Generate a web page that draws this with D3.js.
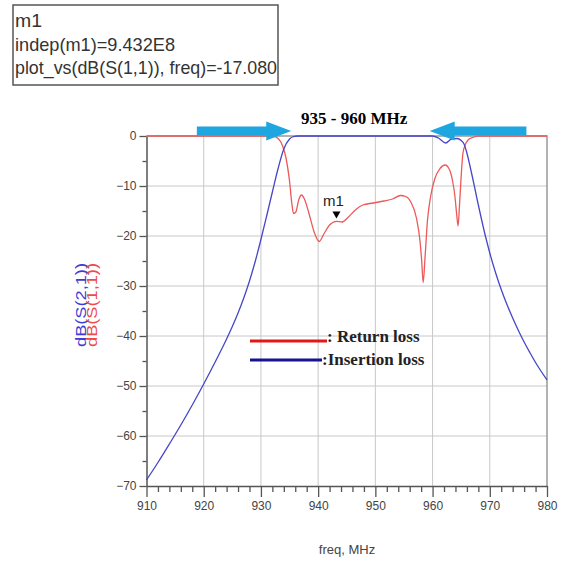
<!DOCTYPE html>
<html>
<head>
<meta charset="utf-8">
<script src="https://cdn.jsdelivr.net/npm/d3@7"></script>
<style>
  body { margin: 0; background: #fff; }
  svg { display: block; font-family: "Liberation Sans", Arial, sans-serif; }
</style>
</head>
<body>
<div id="chart-container"></div>
<script>
// axis ticks
const freqTicks = [910, 920, 930, 940, 950, 960, 970, 980];
const dbTicks = [0, -10, -20, -30, -40, -50, -60, -70];

// dB(S(2,1)) - insertion loss (blue)
const s21Freq = [910, 912, 914, 916, 918, 920, 922, 924, 925, 926, 927, 928, 929, 930, 931, 932, 933, 934, 935, 935.6, 936.5,
  960, 961, 962.3, 963.3, 964.3, 965, 965.5, 966, 966.5, 967, 967.5, 968, 968.5, 969, 969.5, 970, 971, 972, 973, 974, 975,
  976, 977, 978, 980];
const s21Db = [-68.8, -65.3, -61.6, -57.8, -53.8, -49.6, -45.2, -40.6, -38.1, -35.4, -32.4, -29, -25.1, -20.7, -16, -11.2, -6.5, -2.6, -0.6, -0.15, 0,
  0, -0.4, -1.4, -0.6, -0.5, -0.9, -1.6, -3.4, -5.8, -8.4, -11.1, -13.8, -16.4, -18.9, -21.2, -23.4, -27.3, -30.7, -33.7, -36.4, -38.9,
  -41.2, -43.3, -45.3, -48.8];

// dB(S(1,1)) - return loss (red)
const s11Freq = [910, 932, 933, 933.8, 934.4, 935, 935.4, 935.7, 936.1, 936.6, 937.1, 937.6, 938.4, 939.3, 940.2, 941, 942, 943.2,
  944.2, 945.3, 946.5, 947.8, 949.6, 951.5, 953, 954.4, 955.3, 956.2, 957.2, 957.8, 958.1, 958.35, 958.7, 959.1, 959.6, 960.4,
  961.3, 962.2, 962.9, 963.5, 963.9, 964.2, 964.45, 964.7, 965, 965.3, 965.7, 966.2, 967, 968, 980];
const s11Db = [0, 0, -0.5, -2, -4.5, -9, -13.5, -15.5, -15.2, -12.8, -11.8, -12.6, -15.5, -19.2, -21.1, -19.6, -17.8, -17.08,
  -17.2, -16.2, -14.8, -13.8, -13.4, -13.0, -12.6, -11.9, -12.1, -13.2, -16.5, -21, -25, -29.3, -24, -17, -12.5, -8.5,
  -6.5, -5.8, -6.6, -9, -12, -15.5, -18, -14, -8, -3.5, -1.8, -0.8, -0.3, 0, 0];

// marker m1
const markerFreq = 943.2;
const markerDb = -17.08;
const markerLines = ["m1", "indep(m1)=9.432E8", "plot_vs(dB(S(1,1)), freq)=-17.080"];

// band arrows [tail, tip] in MHz
const arrowSpans = [[918.8, 935.3], [976.4, 959.5]];
const bandLabel = "935 - 960 MHz";

const legendItems = [
  { label: ": Return loss", color: "#e01818" },
  { label: ":Insertion loss", color: "#14148c" }
];

const W = 565, H = 563;
const plot = { left: 146.5, right: 547, top: 136, bottom: 486 };

const x = d3.scaleLinear().domain([910, 980]).range([plot.left, plot.right]);
const y = d3.scaleLinear().domain([0, -70]).range([plot.top, plot.bottom]);

const svg = d3.select("#chart-container")
  .append("svg")
  .attr("width", W)
  .attr("height", H);

// grid
svg.append("g")
  .selectAll("line")
  .data(freqTicks.slice(1, -1))
  .join("line")
  .attr("x1", d => x(d)).attr("x2", d => x(d))
  .attr("y1", plot.top).attr("y2", plot.bottom)
  .attr("stroke", "#c8c8c8").attr("stroke-width", 1);
svg.append("g")
  .selectAll("line")
  .data(dbTicks.slice(1, -1))
  .join("line")
  .attr("x1", plot.left).attr("x2", plot.right)
  .attr("y1", d => y(d)).attr("y2", d => y(d))
  .attr("stroke", "#c8c8c8").attr("stroke-width", 1);

// frame (top / right)
svg.append("path")
  .attr("d", `M${plot.left},${plot.top}H${plot.right}V${plot.bottom}`)
  .attr("fill", "none")
  .attr("stroke", "#999")
  .attr("stroke-width", 1.5);

// minor ticks
const minorX = d3.range(912, 980, 2).filter(d => d % 10 !== 0);
const minorY = d3.range(-5, -70, -10);

const xAxis = svg.append("g")
  .attr("transform", `translate(0,${plot.bottom})`)
  .call(d3.axisBottom(x).tickValues(freqTicks).tickSize(11).tickSizeOuter(0).tickPadding(4))
  .style("font-size", "12px");
xAxis.append("g")
  .call(d3.axisBottom(x).tickValues(minorX).tickSize(6).tickFormat(""));

const yAxis = svg.append("g")
  .attr("transform", `translate(${plot.left},0)`)
  .call(d3.axisLeft(y).tickValues(dbTicks).tickSize(7).tickSizeOuter(0).tickPadding(3))
  .style("font-size", "12px");
yAxis.append("g")
  .call(d3.axisLeft(y).tickValues(minorY).tickSize(4).tickFormat(""));

svg.selectAll(".domain").attr("stroke", "#555").attr("stroke-width", 1.5);
svg.selectAll(".tick line").attr("stroke", "#555").attr("stroke-width", 1.3);
svg.selectAll(".tick text").attr("fill", "#444").style("font-family", "'Liberation Sans Narrow', 'Liberation Sans', Arial, sans-serif");
xAxis.selectAll(".domain").filter(function () { return this.parentNode !== xAxis.node(); }).remove();
yAxis.selectAll(".domain").filter(function () { return this.parentNode !== yAxis.node(); }).remove();

// curves
const line = d3.line()
  .x(d => x(d[0]))
  .y(d => y(d[1]))
  .curve(d3.curveMonotoneX);

svg.append("path")
  .datum(d3.zip(s11Freq, s11Db))
  .attr("fill", "none")
  .attr("stroke", "#ee5858")
  .attr("stroke-width", 1.3)
  .attr("d", line);

svg.append("path")
  .datum(d3.zip(s21Freq, s21Db))
  .attr("fill", "none")
  .attr("stroke", "#4646c8")
  .attr("stroke-width", 1.3)
  .attr("d", line);

// band arrows
const arrowY = y(0) - 5;
arrowSpans.forEach(([tail, tip]) => {
  const x0 = x(tail), x1 = x(tip);
  const dir = Math.sign(x1 - x0);
  const xb = x1 - dir * 25;
  svg.append("path")
    .attr("d", `M${x0},${arrowY - 4.5}L${xb},${arrowY - 4.5}L${xb},${arrowY - 9.5}L${x1},${arrowY}` +
      `L${xb},${arrowY + 9.5}L${xb},${arrowY + 4.5}L${x0},${arrowY + 4.5}Z`)
    .attr("fill", "#1ea6e0");
});

svg.append("text")
  .attr("x", x(946.3))
  .attr("y", 124)
  .attr("text-anchor", "middle")
  .style("font-family", "'Liberation Serif', 'Times New Roman', serif")
  .style("font-weight", "bold")
  .style("font-size", "17px")
  .text(bandLabel);

// marker m1
const mx = x(markerFreq), my = y(markerDb) - 3;
svg.append("path")
  .attr("d", `M${mx - 4},${my - 7}L${mx + 4},${my - 7}L${mx},${my}Z`)
  .attr("fill", "#000");
svg.append("text")
  .attr("x", mx - 3)
  .attr("y", my - 12)
  .attr("text-anchor", "middle")
  .style("font-size", "15px")
  .attr("fill", "#222")
  .text("m1");

// marker readout box
svg.append("rect")
  .attr("x", 13).attr("y", 5)
  .attr("width", 265).attr("height", 80)
  .attr("fill", "#fff")
  .attr("stroke", "#555")
  .attr("stroke-width", 1.5);
const boxWidths = [27, 160, 262];
svg.append("g")
  .selectAll("text")
  .data(markerLines)
  .join("text")
  .attr("x", 15)
  .attr("y", (d, i) => 27 + i * 23.5)
  .attr("textLength", (d, i) => boxWidths[i])
  .attr("lengthAdjust", "spacingAndGlyphs")
  .style("font-size", "19px")
  .attr("fill", "#333")
  .text(d => d);

// legend
const legend = svg.append("g");
legendItems.forEach((d, i) => {
  const ly = 341 + i * 19;
  legend.append("line")
    .attr("x1", 250).attr("x2", i === 0 ? 327 : 322)
    .attr("y1", ly).attr("y2", ly)
    .attr("stroke", d.color)
    .attr("stroke-width", 3);
  legend.append("text")
    .attr("x", i === 0 ? 327 : 322)
    .attr("y", i === 0 ? ly + 1 : ly + 5)
    .style("font-family", "'Liberation Serif', 'Times New Roman', serif")
    .style("font-weight", "bold")
    .style("font-size", "17px")
    .attr("fill", "#222")
    .text(d.label);
});

// y-axis label (two stacked rotated texts)
const yLabels = [
  { text: "dB(S(2,1))", color: "#3c3cd8", x: 86 },
  { text: "dB(S(1,1))", color: "#ee4a4a", x: 97 }
];
yLabels.forEach(d => {
  svg.append("text")
    .attr("transform", `translate(${d.x},305) rotate(-90)`)
    .attr("text-anchor", "middle")
    .attr("textLength", 84)
    .attr("lengthAdjust", "spacingAndGlyphs")
    .style("font-size", "14px")
    .attr("fill", d.color)
    .text(d.text);
});

// x-axis label
svg.append("text")
  .attr("x", 347)
  .attr("y", 554)
  .attr("text-anchor", "middle")
  .style("font-size", "13px")
  .attr("fill", "#444")
  .text("freq, MHz");
</script>
</body>
</html>
